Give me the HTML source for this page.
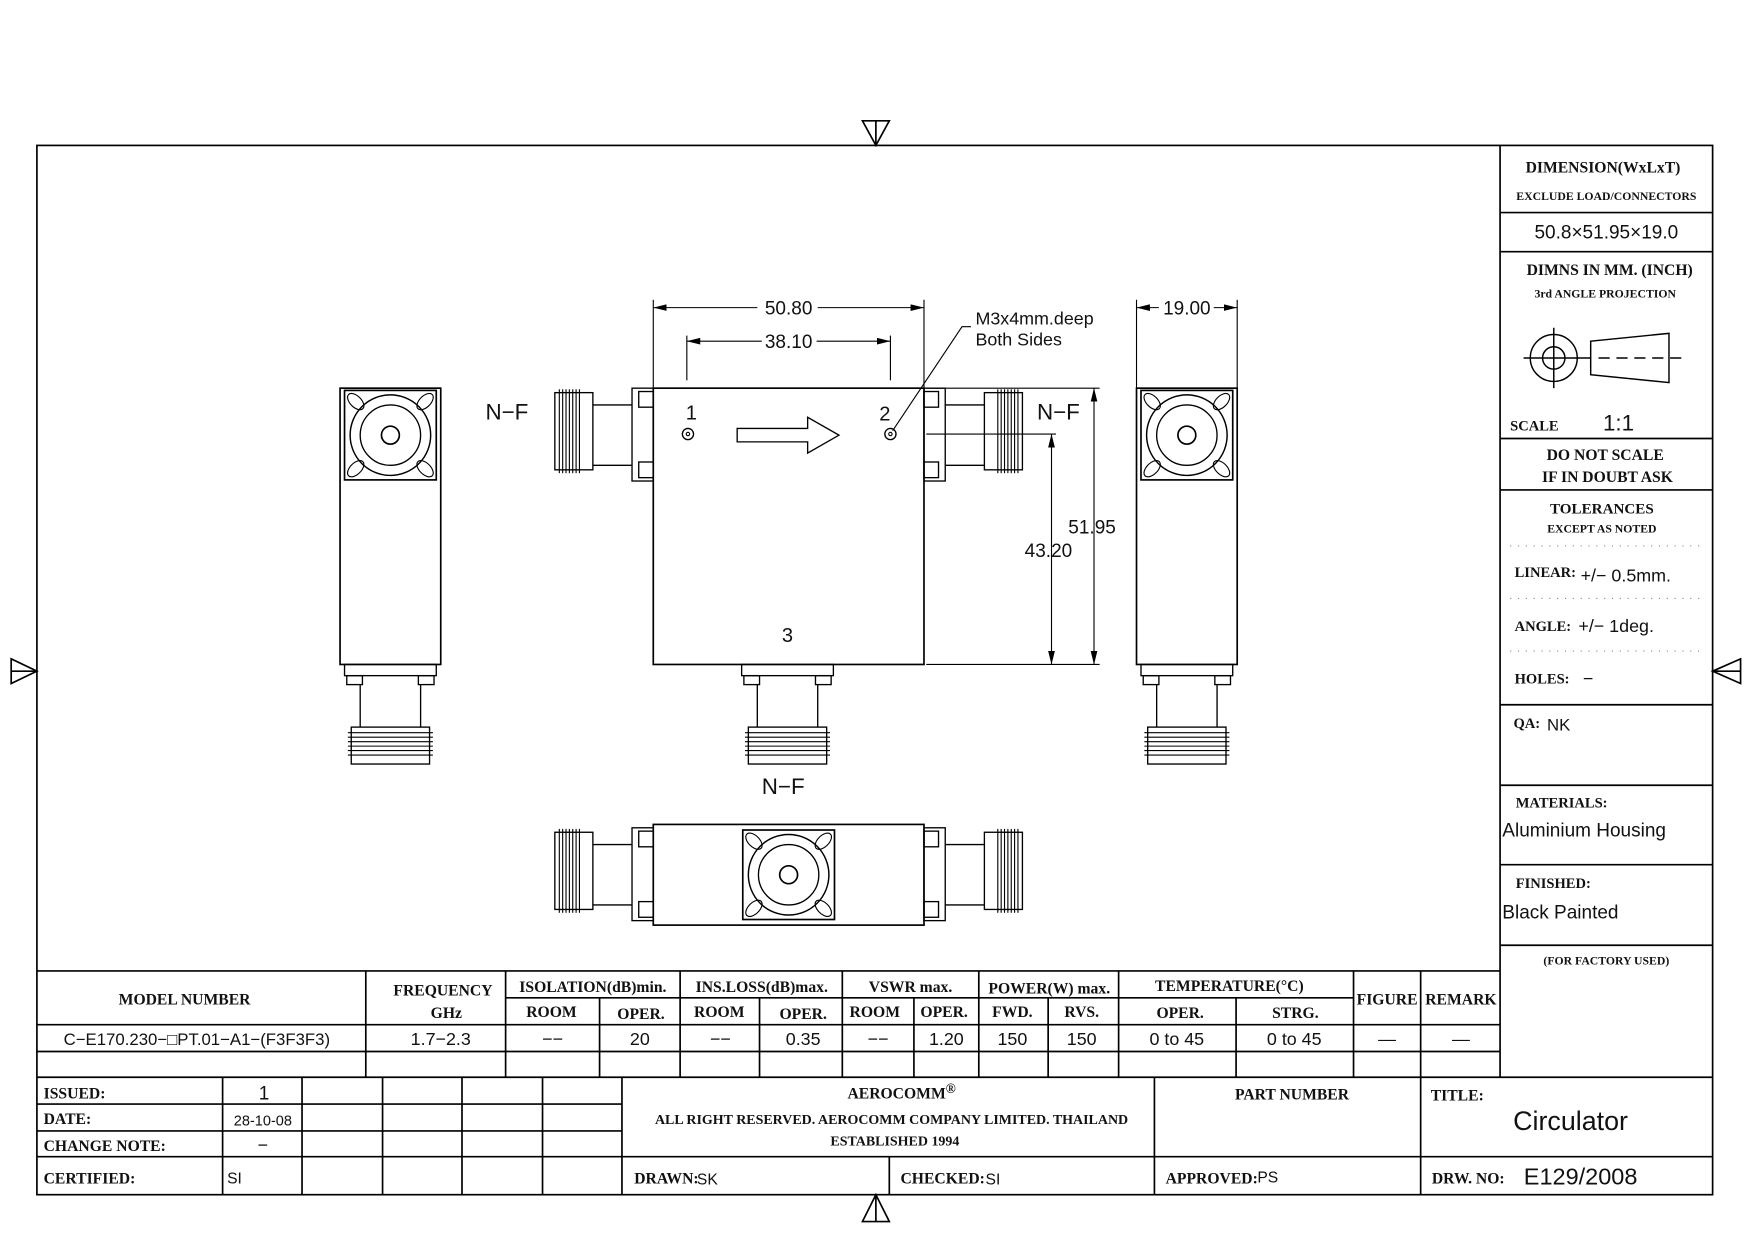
<!DOCTYPE html>
<html><head><meta charset="utf-8"><style>
html,body{margin:0;padding:0;background:#fff}
svg{display:block}
.s{font-family:"Liberation Serif",serif;font-weight:bold;fill:#111}
.n{font-family:"Liberation Sans",sans-serif;fill:#111}
</style></head><body>
<svg width="1754" height="1240" viewBox="0 0 1568 1108.5" xmlns="http://www.w3.org/2000/svg">
<defs>
<g id="face">
 <rect x="0" y="0" width="82" height="80" fill="none" stroke="#000" stroke-width="1.5"/>
 <circle cx="41" cy="40" r="36" fill="none" stroke="#000" stroke-width="1.3"/>
 <circle cx="41" cy="40" r="27" fill="none" stroke="#000" stroke-width="1.2"/>
 <circle cx="41" cy="40" r="8" fill="none" stroke="#000" stroke-width="1.5"/>
 <ellipse cx="10" cy="10" rx="9" ry="5" transform="rotate(45 10 10)" fill="none" stroke="#000"/>
 <ellipse cx="72" cy="10" rx="9" ry="5" transform="rotate(-45 72 10)" fill="none" stroke="#000"/>
 <ellipse cx="10" cy="70" rx="9" ry="5" transform="rotate(-45 10 70)" fill="none" stroke="#000"/>
 <ellipse cx="72" cy="70" rx="9" ry="5" transform="rotate(45 72 70)" fill="none" stroke="#000"/>
</g>
<g id="conn" fill="none" stroke="#000" stroke-width="1.2">
 <!-- horizontal connector pointing left, origin at body edge x=0, y top of flange -->
 <rect x="-19" y="0" width="19" height="83"/>
 <rect x="-13" y="3" width="13" height="14"/><rect x="-13" y="66" width="13" height="14"/>
 <line x1="-54" y1="15" x2="-19" y2="15"/><line x1="-54" y1="69" x2="-19" y2="69"/>
 <rect x="-88" y="4" width="34" height="69"/>
 <g stroke-width="1">
 <line x1="-84" y1="1" x2="-84" y2="76"/><line x1="-81" y1="1" x2="-81" y2="76"/><line x1="-78" y1="1" x2="-78" y2="76"/><line x1="-75" y1="1" x2="-75" y2="76"/><line x1="-72" y1="1" x2="-72" y2="76"/><line x1="-69" y1="1" x2="-69" y2="76"/><line x1="-66" y1="1" x2="-66" y2="76"/>
 </g>
</g>
<g id="connD" fill="none" stroke="#000" stroke-width="1.2">
 <!-- downward connector, origin at body bottom center -->
 <rect x="-41" y="0" width="82" height="10"/>
 <rect x="-39" y="10" width="14" height="8"/><rect x="25" y="10" width="14" height="8"/>
 <line x1="-27" y1="18" x2="-27" y2="56"/><line x1="27" y1="18" x2="27" y2="56"/>
 <rect x="-35" y="56" width="70" height="33"/>
 <g stroke-width="1">
 <line x1="-38" y1="61" x2="38" y2="61"/><line x1="-38" y1="65" x2="38" y2="65"/><line x1="-38" y1="69" x2="38" y2="69"/><line x1="-38" y1="73" x2="38" y2="73"/><line x1="-38" y1="77" x2="38" y2="77"/><line x1="-38" y1="81" x2="38" y2="81"/>
 </g>
</g>
<marker id="ar" markerWidth="12" markerHeight="6" refX="12" refY="3" orient="auto" markerUnits="userSpaceOnUse"><path d="M0,0 L12,3 L0,6 z" fill="#000"/></marker>
</defs>

<g fill="none" stroke="#000" stroke-width="1.5">
 <rect x="33" y="130" width="1498" height="938"/>
 <!-- triangles -->
 <path d="M771,108 L795,108 L783,130 Z M783,108 L783,130"/>
 <path d="M771,1092 L795,1092 L783,1068 Z M783,1068 L783,1092"/>
 <path d="M10,589 L10,611 L33,600 Z M10,600 L33,600"/>
 <path d="M1556,589 L1556,611 L1531,600 Z M1531,600 L1556,600"/>
 <!-- right panel -->
 <line x1="1341" y1="130" x2="1341" y2="963"/>
 <line x1="1341" y1="190" x2="1531" y2="190"/>
 <line x1="1341" y1="225" x2="1531" y2="225"/>
 <line x1="1341" y1="392" x2="1531" y2="392"/>
 <line x1="1341" y1="438" x2="1531" y2="438"/>
 <line x1="1341" y1="630" x2="1531" y2="630"/>
 <line x1="1341" y1="702" x2="1531" y2="702"/>
 <line x1="1341" y1="773" x2="1531" y2="773"/>
 <line x1="1341" y1="845" x2="1531" y2="845"/>
</g>
<g stroke="#888" stroke-width="1" stroke-dasharray="1,6">
 <line x1="1350" y1="488" x2="1525" y2="488"/><line x1="1350" y1="535" x2="1525" y2="535"/><line x1="1350" y1="582" x2="1525" y2="582"/>
</g>
<!-- projection symbol -->
<g fill="none" stroke="#000" stroke-width="1.3">
 <circle cx="1389" cy="320" r="21"/><circle cx="1389" cy="320" r="10"/>
 <line x1="1362" y1="320" x2="1422" y2="320"/><line x1="1389" y1="293" x2="1389" y2="347"/>
 <path d="M1422,305 L1492,298 L1492,342 L1422,335 Z"/>
 <line x1="1429" y1="320" x2="1508" y2="320" stroke-dasharray="10,6"/>
</g>

<!-- bottom table -->
<g fill="none" stroke="#000" stroke-width="1.5">
 <line x1="33" y1="868" x2="1341" y2="868"/>
 <line x1="452" y1="892" x2="1210" y2="892"/>
 <line x1="33" y1="916" x2="1341" y2="916"/>
 <line x1="33" y1="940" x2="1341" y2="940"/>
 <line x1="33" y1="963" x2="1531" y2="963"/>
 <line x1="327" y1="868" x2="327" y2="963"/>
 <line x1="452" y1="868" x2="452" y2="963"/>
 <line x1="608" y1="868" x2="608" y2="963"/>
 <line x1="753" y1="868" x2="753" y2="963"/>
 <line x1="875" y1="868" x2="875" y2="963"/>
 <line x1="1000" y1="868" x2="1000" y2="963"/>
 <line x1="1210" y1="868" x2="1210" y2="963"/>
 <line x1="1270" y1="868" x2="1270" y2="963"/>
 <line x1="536" y1="892" x2="536" y2="963"/>
 <line x1="679" y1="892" x2="679" y2="963"/>
 <line x1="817" y1="892" x2="817" y2="963"/>
 <line x1="937" y1="892" x2="937" y2="963"/>
 <line x1="1105" y1="892" x2="1105" y2="963"/>
 <!-- title block -->
 <line x1="33" y1="987" x2="556" y2="987"/>
 <line x1="33" y1="1011" x2="556" y2="1011"/>
 <line x1="33" y1="1034" x2="1531" y2="1034"/>
 <line x1="199" y1="963" x2="199" y2="1068"/>
 <line x1="270" y1="963" x2="270" y2="1068"/>
 <line x1="342" y1="963" x2="342" y2="1068"/>
 <line x1="413" y1="963" x2="413" y2="1068"/>
 <line x1="485" y1="963" x2="485" y2="1068"/>
 <line x1="556" y1="963" x2="556" y2="1068"/>
 <line x1="1032" y1="963" x2="1032" y2="1068"/>
 <line x1="1270" y1="963" x2="1270" y2="1068"/>
 <line x1="795" y1="1034" x2="795" y2="1068"/>
</g>

<!-- drawings -->
<g fill="none" stroke="#000" stroke-width="1.5">
 <!-- left side view -->
 <rect x="304" y="347" width="90" height="247"/>
 <!-- main body -->
 <rect x="584" y="347" width="242" height="247"/>
 <!-- right side view -->
 <rect x="1016" y="347" width="90" height="247"/>
 <!-- bottom view -->
 <rect x="584" y="737" width="242" height="90"/>
 <!-- arrow -->
 <path d="M659,383 L722,383 L722,373 L750,389 L722,405 L722,395 L659,395 Z" stroke-width="1.2"/>
 <circle cx="615" cy="388" r="5" stroke-width="1.2"/><circle cx="615" cy="388" r="1.5" stroke-width="1"/>
 <circle cx="796" cy="388" r="5" stroke-width="1.2"/><circle cx="796" cy="388" r="1.5" stroke-width="1"/>
</g>
<use href="#face" x="308" y="349"/>
<use href="#face" x="1020" y="349"/>
<use href="#face" x="664" y="742"/>
<use href="#conn" x="584" y="347"/>
<use href="#conn" transform="translate(826,347) scale(-1,1)"/>
<use href="#conn" x="584" y="740"/>
<use href="#conn" transform="translate(826,740) scale(-1,1)"/>
<use href="#connD" x="704" y="594"/>
<use href="#connD" x="349" y="594"/>
<use href="#connD" x="1061" y="594"/>

<!-- dimensions -->
<g stroke="#000" stroke-width="1" fill="none">
 <line x1="584" y1="268" x2="584" y2="347"/><line x1="826" y1="268" x2="826" y2="347"/>
 <line x1="614" y1="300" x2="614" y2="340"/><line x1="796" y1="300" x2="796" y2="340"/>
 <line x1="677" y1="275" x2="584" y2="275" marker-end="url(#ar)"/><line x1="731" y1="275" x2="826" y2="275" marker-end="url(#ar)"/>
 <line x1="681" y1="305" x2="614" y2="305" marker-end="url(#ar)"/><line x1="730" y1="305" x2="796" y2="305" marker-end="url(#ar)"/>
 <line x1="1016" y1="268" x2="1016" y2="347"/><line x1="1106" y1="268" x2="1106" y2="347"/>
 <line x1="1036" y1="275" x2="1016" y2="275" marker-end="url(#ar)"/><line x1="1085" y1="275" x2="1106" y2="275" marker-end="url(#ar)"/>
 <line x1="828" y1="347" x2="983" y2="347"/>
 <line x1="828" y1="594" x2="983" y2="594"/>
 <line x1="828" y1="388" x2="944" y2="388"/>
 <line x1="978" y1="470" x2="978" y2="347" marker-end="url(#ar)"/><line x1="978" y1="470" x2="978" y2="594" marker-end="url(#ar)"/>
 <line x1="940" y1="490" x2="940" y2="388" marker-end="url(#ar)"/><line x1="940" y1="490" x2="940" y2="594" marker-end="url(#ar)"/>
 <path d="M798,385 L860,292 L868,292"/>
</g>

<!-- drawing text -->
<g class="n" font-size="17">
 <text x="705" y="281" text-anchor="middle">50.80</text>
 <text x="705" y="311" text-anchor="middle">38.10</text>
 <text x="1061" y="281" text-anchor="middle">19.00</text>
 <text x="872" y="290" font-size="16">M3x4mm.deep</text>
 <text x="872" y="309" font-size="16">Both Sides</text>
 <text x="955" y="477">51.95</text>
 <text x="916" y="498">43.20</text>
 <text x="434" y="375" font-size="20">N−F</text>
 <text x="927" y="375" font-size="20">N−F</text>
 <text x="681" y="710" font-size="20">N−F</text>
 <text x="613" y="375" font-size="18">1</text>
 <text x="786" y="376" font-size="18">2</text>
 <text x="699" y="574" font-size="18">3</text>
</g>

<!-- right panel text -->
<g class="s">
 <text x="1433" y="154" font-size="14" text-anchor="middle">DIMENSION(WxLxT)</text>
 <text x="1436" y="179" font-size="10.5" text-anchor="middle">EXCLUDE LOAD/CONNECTORS</text>
 <text x="1435" y="266" font-size="10.5" text-anchor="middle">3rd ANGLE PROJECTION</text>
 <text x="1439" y="246" font-size="14" text-anchor="middle">DIMNS IN MM. (INCH)</text>
 <text x="1350" y="385" font-size="13">SCALE</text>
 <text x="1435" y="411" font-size="14" text-anchor="middle">DO NOT SCALE</text>
 <text x="1437" y="431" font-size="14" text-anchor="middle">IF IN DOUBT ASK</text>
 <text x="1432" y="459" font-size="13.5" text-anchor="middle">TOLERANCES</text>
 <text x="1432" y="476" font-size="10.5" text-anchor="middle">EXCEPT AS NOTED</text>
 <text x="1354" y="516" font-size="13">LINEAR:</text>
 <text x="1354" y="564" font-size="13">ANGLE:</text>
 <text x="1354" y="611" font-size="13">HOLES:</text>
 <text x="1353" y="651" font-size="13">QA:</text>
 <text x="1355" y="722" font-size="13">MATERIALS:</text>
 <text x="1355" y="794" font-size="13">FINISHED:</text>
 <text x="1436" y="862" font-size="10.5" text-anchor="middle">(FOR FACTORY USED)</text>
</g>
<g class="n">
 <text x="1436" y="213" font-size="17" text-anchor="middle">50.8×51.95×19.0</text>
 <text x="1433" y="385" font-size="20">1:1</text>
 <text x="1413" y="520" font-size="16">+/−  0.5mm.</text>
 <text x="1411" y="565" font-size="16">+/−  1deg.</text>
 <text x="1415" y="612" font-size="16">−</text>
 <text x="1383" y="653" font-size="15">NK</text>
 <text x="1343" y="748" font-size="17">Aluminium Housing</text>
 <text x="1343" y="821" font-size="17">Black Painted</text>
</g>

<!-- table text -->
<g class="s" font-size="14" text-anchor="middle">
 <text x="165" y="898">MODEL NUMBER</text>
 <text x="396" y="890">FREQUENCY</text>
 <text x="399" y="910">GHz</text>
 <text x="530" y="887">ISOLATION(dB)min.</text>
 <text x="681" y="887">INS.LOSS(dB)max.</text>
 <text x="814" y="887">VSWR max.</text>
 <text x="938" y="888">POWER(W) max.</text>
 <text x="1099" y="886">TEMPERATURE(°C)</text>
 <text x="1240" y="898">FIGURE</text>
 <text x="1306" y="898">REMARK</text>
 <text x="493" y="909">ROOM</text>
 <text x="573" y="911">OPER.</text>
 <text x="643" y="909">ROOM</text>
 <text x="718" y="911">OPER.</text>
 <text x="782" y="909">ROOM</text>
 <text x="844" y="909">OPER.</text>
 <text x="905" y="909">FWD.</text>
 <text x="967" y="909">RVS.</text>
 <text x="1055" y="910">OPER.</text>
 <text x="1158" y="910">STRG.</text>
 <text x="806" y="982">AEROCOMM<tspan font-size="12" dy="-5">®</tspan></text>
 <text x="797" y="1005" font-size="12.5">ALL RIGHT RESERVED. AEROCOMM COMPANY LIMITED. THAILAND</text>
 <text x="800" y="1024" font-size="12.5">ESTABLISHED 1994</text>
 <text x="1155" y="983">PART NUMBER</text>
</g>
<g class="s" font-size="14">
 <text x="39" y="982">ISSUED:</text>
 <text x="39" y="1005">DATE:</text>
 <text x="39" y="1029">CHANGE NOTE:</text>
 <text x="39" y="1058">CERTIFIED:</text>
 <text x="567" y="1058">DRAWN:</text>
 <text x="805" y="1058">CHECKED:</text>
 <text x="1042" y="1058">APPROVED:</text>
 <text x="1279" y="984">TITLE:</text>
 <text x="1280" y="1058">DRW. NO:</text>
</g>
<g class="n" font-size="16" text-anchor="middle">
 <text x="176" y="934" font-size="15">C−E170.230−□PT.01−A1−(F3F3F3)</text>
 <text x="394" y="934">1.7−2.3</text>
 <text x="494" y="934">−−</text>
 <text x="572" y="934">20</text>
 <text x="644" y="934">−−</text>
 <text x="718" y="934">0.35</text>
 <text x="785" y="934">−−</text>
 <text x="846" y="934">1.20</text>
 <text x="905" y="934">150</text>
 <text x="967" y="934">150</text>
 <text x="1052" y="934">0 to 45</text>
 <text x="1157" y="934">0 to 45</text>
 <text x="1240" y="934">—</text>
 <text x="1306" y="934">—</text>
 <text x="236" y="983" font-size="17">1</text>
 <text x="235" y="1006" font-size="13">28-10-08</text>
 <text x="235" y="1029">−</text>
 <text x="1404" y="1010" font-size="24">Circulator</text>
 <text x="1413" y="1059" font-size="21">E129/2008</text>
</g>
<g class="n" font-size="14">
 <text x="203" y="1058">SI</text>
 <text x="623" y="1059">SK</text>
 <text x="881" y="1059">SI</text>
 <text x="1124" y="1057">PS</text>
</g>
</svg>
</body></html>
